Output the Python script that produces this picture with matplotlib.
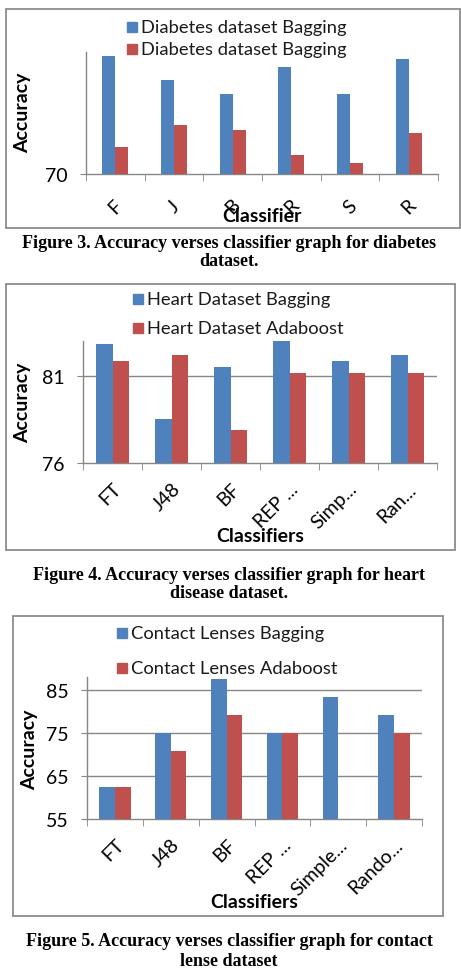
import numpy as np
import matplotlib.pyplot as plt
from matplotlib.patches import Rectangle

W, H = 461, 970

# Figure 3 - diabetes
diab_labels = ["F", "J", "B", "R", "S", "R"]
diab_series = ["Diabetes dataset Bagging", "Diabetes dataset Bagging"]
diab_bag = [75.8, 74.6, 73.95, 75.25, 73.95, 75.65]
diab_ada = [71.35, 72.4, 72.15, 70.95, 70.55, 72.0]

# Figure 4 - heart
heart_labels = ["FT", "J48", "BF", "REP ...", "Simp...", "Ran..."]
heart_series = ["Heart Dataset Bagging", "Heart Dataset Adaboost"]
heart_bag = [82.84, 78.55, 81.51, 83.0, 81.85, 82.18]
heart_ada = [81.85, 82.18, 77.89, 81.18, 81.18, 81.18]

# Figure 5 - contact lenses
lens_labels = ["FT", "J48", "BF", "REP ...", "Simple...", "Rando..."]
lens_series = ["Contact Lenses Bagging", "Contact Lenses Adaboost"]
lens_bag = [62.5, 75.0, 87.5, 75.0, 83.33, 79.17]
lens_ada = [62.5, 70.83, 79.17, 75.0, np.nan, 75.0]

captions = [
    ["Figure 3. Accuracy verses classifier graph for diabetes", "dataset."],
    ["Figure 4. Accuracy verses classifier graph for heart", "disease dataset."],
    ["Figure 5. Accuracy verses classifier graph for contact", "lense dataset"],
]

BLUE = "#4f81bd"
RED = "#c0504d"
GRAY = "#868686"
SANS = ["Lato", "DejaVu Sans"]
SERIF = ["Liberation Serif", "DejaVu Serif"]

fig = plt.figure(figsize=(W / 100, H / 100), dpi=100)


def fx(x):
    return x / W


def fy(y):
    return 1 - y / H


def panel(frame, box, labels, s1, s2, names, ylim, yticks, grid, width,
          leg, xlab, xlab_y, ylab_xy, rot_pad, single=False):
    # outer chart frame
    x0, y0, x1, y1 = frame
    fig.patches.append(Rectangle((fx(x0), fy(y1)), fx(x1 - x0), (y1 - y0) / H,
                                 transform=fig.transFigure, fill=False,
                                 edgecolor="#8c8c8c", lw=1.3))
    a0, b0, a1, b1 = box
    ax = fig.add_axes([fx(a0), fy(b1), fx(a1 - a0), (b1 - b0) / H])
    x = np.arange(len(labels))
    ax.bar(x - width / 2, s1, width, color=BLUE, zorder=3)
    ax.bar(x + width / 2, s2, width, color=RED, zorder=3)
    ax.set_xlim(-0.5, len(labels) - 0.5)
    ax.set_ylim(*ylim)
    ax.set_yticks(yticks)
    ax.set_yticklabels([str(t) for t in yticks], fontsize=14, family=SANS)
    for g in grid:
        ax.axhline(g, color=GRAY, lw=1, zorder=1)
    for sp in ["top", "right"]:
        ax.spines[sp].set_visible(False)
    for sp in ["left", "bottom"]:
        ax.spines[sp].set_color(GRAY)
        ax.spines[sp].set_linewidth(1)
    ax.tick_params(axis="y", length=4, color=GRAY, pad=9)
    ax.set_xticks(np.arange(-0.5, len(labels)), minor=True)
    ax.tick_params(axis="x", which="minor", length=5, color=GRAY)
    ax.set_xticks(x)
    if single:
        ax.set_xticklabels(labels, rotation=45, ha="center", va="center",
                           rotation_mode="anchor", fontsize=14, family=SANS)
    else:
        ax.set_xticklabels(labels, rotation=45, ha="right", va="top",
                           rotation_mode="anchor", fontsize=14, family=SANS)
    ax.tick_params(axis="x", which="major", length=0, pad=rot_pad)
    ax.patch.set_alpha(0)

    # legend
    lx, ly1, ly2 = leg
    for ly, name, col in [(ly1, names[0], BLUE), (ly2, names[1], RED)]:
        fig.patches.append(Rectangle((fx(lx), fy(ly + 5)), fx(10), 10 / H,
                                     transform=fig.transFigure, color=col))
        fig.text(fx(lx + 14), fy(ly), name, fontsize=13.2, family=SANS,
                 va="center", ha="left", color="#1a1a1a")

    fig.text(fx((a0 + a1) / 2), fy(xlab_y), xlab, fontsize=14, family=SANS,
             weight="bold", ha="center", va="center")
    fig.text(fx(ylab_xy[0]), fy(ylab_xy[1]), "Accuracy", fontsize=14,
             family=SANS, weight="bold", rotation=90, ha="center", va="center")
    return ax


panel((6, 10, 460, 229), (86, 53, 438, 175), diab_labels, diab_bag, diab_ada,
      diab_series, (70, 76), [70], [], 0.22, (127, 28, 50), "Classifier", 217,
      (23, 113), 23, single=True)

panel((6, 285, 455, 551), (83, 342, 437, 464), heart_labels, heart_bag,
      heart_ada, heart_series, (76, 83), [76, 81], [81], 0.28,
      (133, 300, 329), "Classifiers", 537, (23, 403), 12)

panel((13, 617, 443, 917), (87, 678, 422, 820), lens_labels, lens_bag,
      lens_ada, lens_series, (55, 88), [55, 65, 75, 85], [65, 75, 85], 0.28,
      (117, 634, 669), "Classifiers", 903, (30, 750), 12)

cap_y = [(243, 262), (575, 593), (942, 962)]
for lines, ys in zip(captions, cap_y):
    for t, yy in zip(lines, ys):
        fig.text(fx(229), fy(yy), t, fontsize=13, family=SERIF,
                 weight="bold", ha="center", va="center")

fig.savefig("out.png", dpi=100)
